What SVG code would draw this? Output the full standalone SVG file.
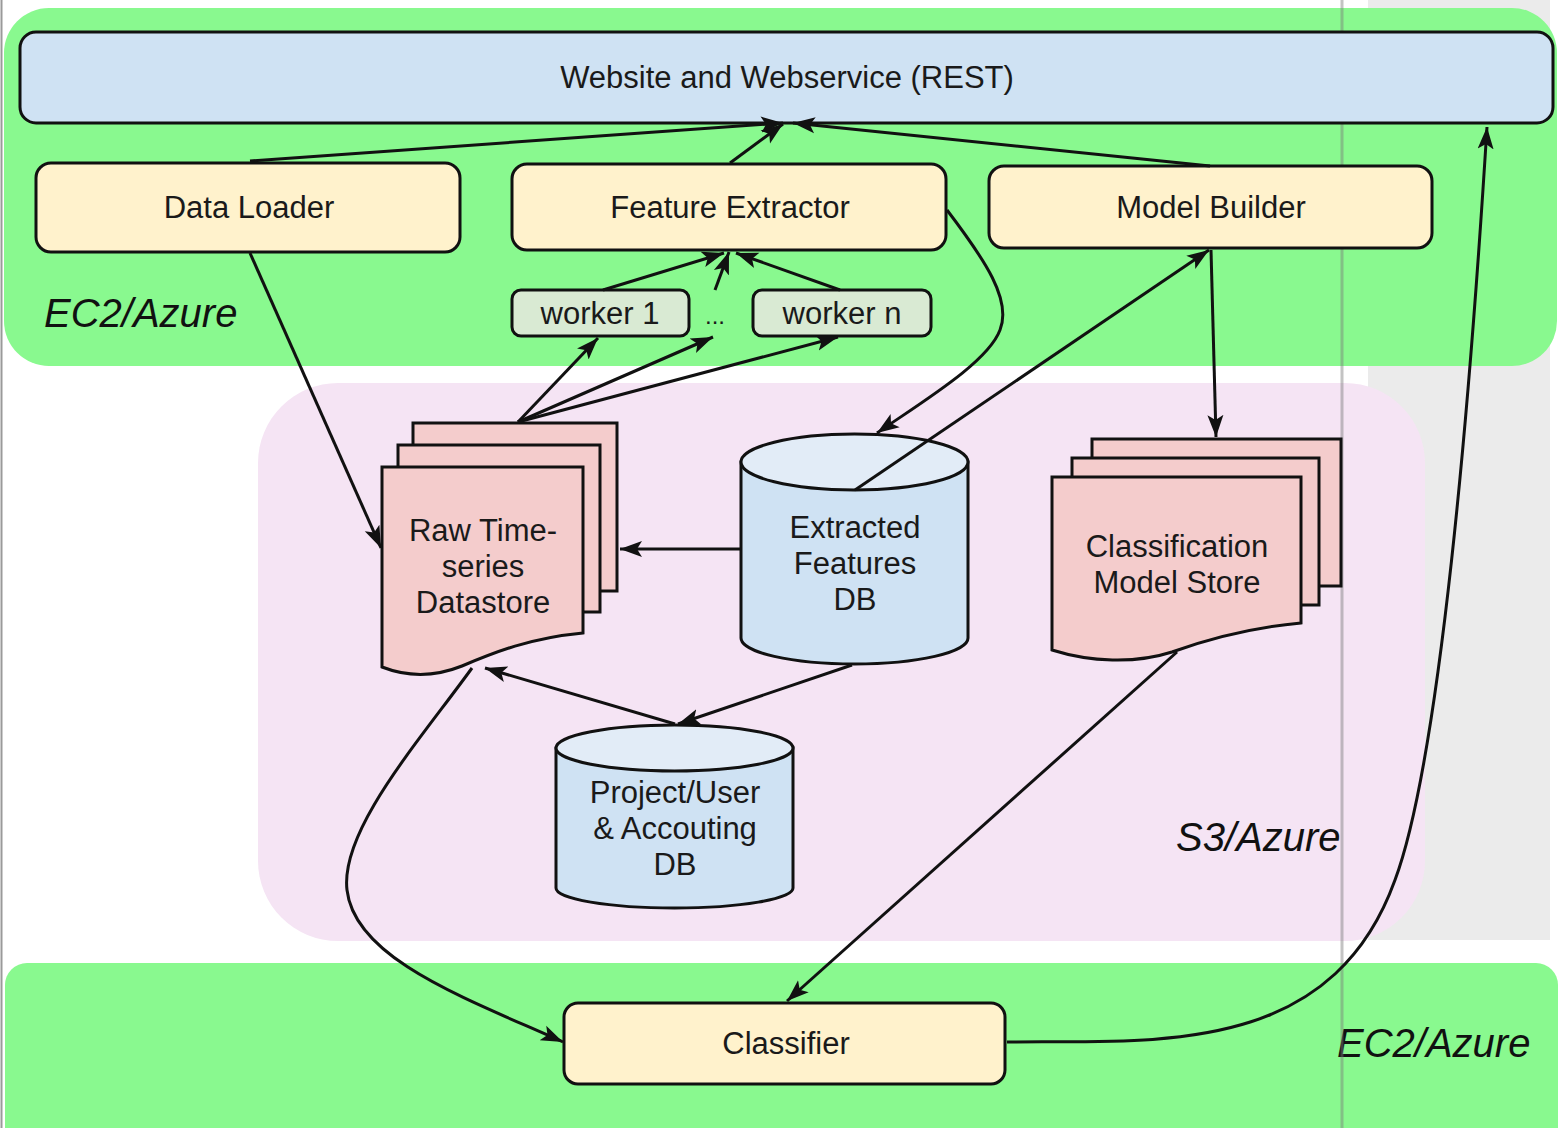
<svg xmlns="http://www.w3.org/2000/svg" width="1558" height="1128" viewBox="0 0 1558 1128">
  <defs>
    <style>
      .lbl { font-family: "Liberation Sans", Arial, sans-serif; font-size: 31px; fill: #1a1a1a; text-anchor: middle; }
      .zone { font-family: "Liberation Sans", Arial, sans-serif; font-size: 40px; font-style: italic; fill: #111; }
      .box { stroke: #111; stroke-width: 3; }
      .svc { fill: #fff2cc; }
      .web { fill: #cfe2f3; }
      .wrk { fill: #d9ead3; }
      .doc { fill: #f4cccc; stroke: #111; stroke-width: 3; }
      .cyl { fill: #cfe2f3; stroke: #111; stroke-width: 3; }
      .cyltop { fill: #e2ecf7; stroke: #111; stroke-width: 3; }
      .edge { fill: none; stroke: #111; stroke-width: 3; marker-end: url(#arrow); }
    </style>
    <marker id="arrow" markerUnits="userSpaceOnUse" markerWidth="24" markerHeight="20" viewBox="0 0 24 20" refX="22" refY="10" orient="auto">
      <path d="M0,2 L22,10 L0,18 L5,10 Z" fill="#111"/>
    </marker>
  </defs>

  <!-- background -->
  <rect x="0" y="0" width="1558" height="1128" fill="#ffffff"/>
  <rect x="1368" y="0" width="182" height="940" fill="#ebebeb"/>
  <line x1="1.5" y1="0" x2="1.5" y2="1128" stroke="#9a9a9a" stroke-width="2"/>

  <!-- zones -->
  <g id="zone-compute-top">
    <rect x="4" y="8" width="1553" height="358" rx="45" fill="#89f98f"/>
    <text class="zone" x="44" y="327">EC2/Azure</text>
  </g>
  <g id="zone-storage">
    <rect x="258" y="383" width="1167" height="558" rx="80" fill="#f5e4f4"/>
    <text class="zone" x="1176" y="851">S3/Azure</text>
  </g>
  <g id="zone-compute-bottom">
    <rect x="5" y="963" width="1553" height="200" rx="22" fill="#89f98f"/>
    <text class="zone" x="1337" y="1057">EC2/Azure</text>
  </g>

  <line x1="1342" y1="0" x2="1342" y2="1128" stroke="#7a7a7a" stroke-width="3" stroke-opacity="0.45"/>

  <!-- nodes -->
  <g id="website">
    <rect class="box web" x="20" y="32" width="1533" height="91" rx="16"/>
    <text class="lbl" x="787" y="88">Website and Webservice (REST)</text>
  </g>
  <g id="data-loader">
    <rect class="box svc" x="36" y="163" width="424" height="89" rx="15"/>
    <text class="lbl" x="249" y="218">Data Loader</text>
  </g>
  <g id="feature-extractor">
    <rect class="box svc" x="512" y="164" width="434" height="86" rx="15"/>
    <text class="lbl" x="730" y="218">Feature Extractor</text>
  </g>
  <g id="model-builder">
    <rect class="box svc" x="989" y="166" width="443" height="82" rx="15"/>
    <text class="lbl" x="1211" y="218">Model Builder</text>
  </g>
  <g id="worker-1">
    <rect class="box wrk" x="512" y="290" width="177" height="46" rx="9"/>
    <text class="lbl" x="600" y="324">worker 1</text>
  </g>
  <g id="worker-dots">
    <text class="lbl" x="715" y="324" style="font-size:24px">...</text>
  </g>
  <g id="worker-n">
    <rect class="box wrk" x="753" y="290" width="178" height="46" rx="9"/>
    <text class="lbl" x="842" y="324">worker n</text>
  </g>

  <g id="raw-datastore">
    <rect class="doc" x="413" y="423" width="204" height="168"/>
    <rect class="doc" x="398" y="445" width="202" height="167"/>
    <path class="doc" d="M382,467 H583 V633 C530,638 495,652 462,666 C432,678 405,676 382,667 Z"/>
    <text class="lbl" x="483" y="541">Raw Time-</text>
    <text class="lbl" x="483" y="577">series</text>
    <text class="lbl" x="483" y="613">Datastore</text>
  </g>

  <g id="features-db">
    <path class="cyl" d="M741,462 V638 A113.5,26 0 0 0 968,638 V462 Z"/>
    <ellipse class="cyltop" cx="854.5" cy="462" rx="113.5" ry="28"/>
    <text class="lbl" x="855" y="538">Extracted</text>
    <text class="lbl" x="855" y="574">Features</text>
    <text class="lbl" x="855" y="610">DB</text>
  </g>

  <g id="model-store">
    <rect class="doc" x="1092" y="439" width="249" height="147"/>
    <rect class="doc" x="1072" y="458" width="247" height="147"/>
    <path class="doc" d="M1052,477 H1301 V623 C1245,628 1205,640 1172,652 C1135,664 1090,662 1052,650 Z"/>
    <text class="lbl" x="1177" y="557">Classification</text>
    <text class="lbl" x="1177" y="593">Model Store</text>
  </g>

  <g id="project-db">
    <path class="cyl" d="M556,748 V888 A118.5,20 0 0 0 793,888 V748 Z"/>
    <ellipse class="cyltop" cx="674.5" cy="748" rx="118.5" ry="23"/>
    <text class="lbl" x="675" y="803">Project/User</text>
    <text class="lbl" x="675" y="839">&amp; Accouting</text>
    <text class="lbl" x="675" y="875">DB</text>
  </g>

  <g id="classifier">
    <rect class="box svc" x="564" y="1003" width="441" height="81" rx="14"/>
    <text class="lbl" x="786" y="1054">Classifier</text>
  </g>

  <!-- connectors -->
  <g id="connectors">
    <path class="edge" d="M250,161 L783,123"/>
    <path class="edge" d="M730,163 L783,124"/>
    <path class="edge" d="M1210,166 L793,123"/>
    <path class="edge" d="M250,253 L381,548"/>
    <path class="edge" d="M603,290 L724,253"/>
    <path class="edge" d="M715,290 L729,252"/>
    <path class="edge" d="M840,290 L736,253"/>
    <path class="edge" d="M518,422 L598,338"/>
    <path class="edge" d="M518,422 L713,337"/>
    <path class="edge" d="M518,422 L838,337"/>
    <path class="edge" d="M947,210 C985,260 1012,300 1000,330 C988,362 925,400 877,433"/>
    <path class="edge" d="M855,490 L1209,250"/>
    <path class="edge" d="M1211,250 L1216,437"/>
    <path class="edge" d="M741,549 L620,549"/>
    <path class="edge" d="M852,665 L678,724"/>
    <path class="edge" d="M675,724 L485,668"/>
    <path class="edge" d="M472,668 C420,740 340,830 347,890 C355,960 470,1000 563,1042"/>
    <path class="edge" d="M1177,652 L787,1001"/>
    <path class="edge" d="M1007,1042 C1150,1040 1330,1060 1395,880 C1440,760 1470,400 1487,127"/>
  </g>
</svg>
